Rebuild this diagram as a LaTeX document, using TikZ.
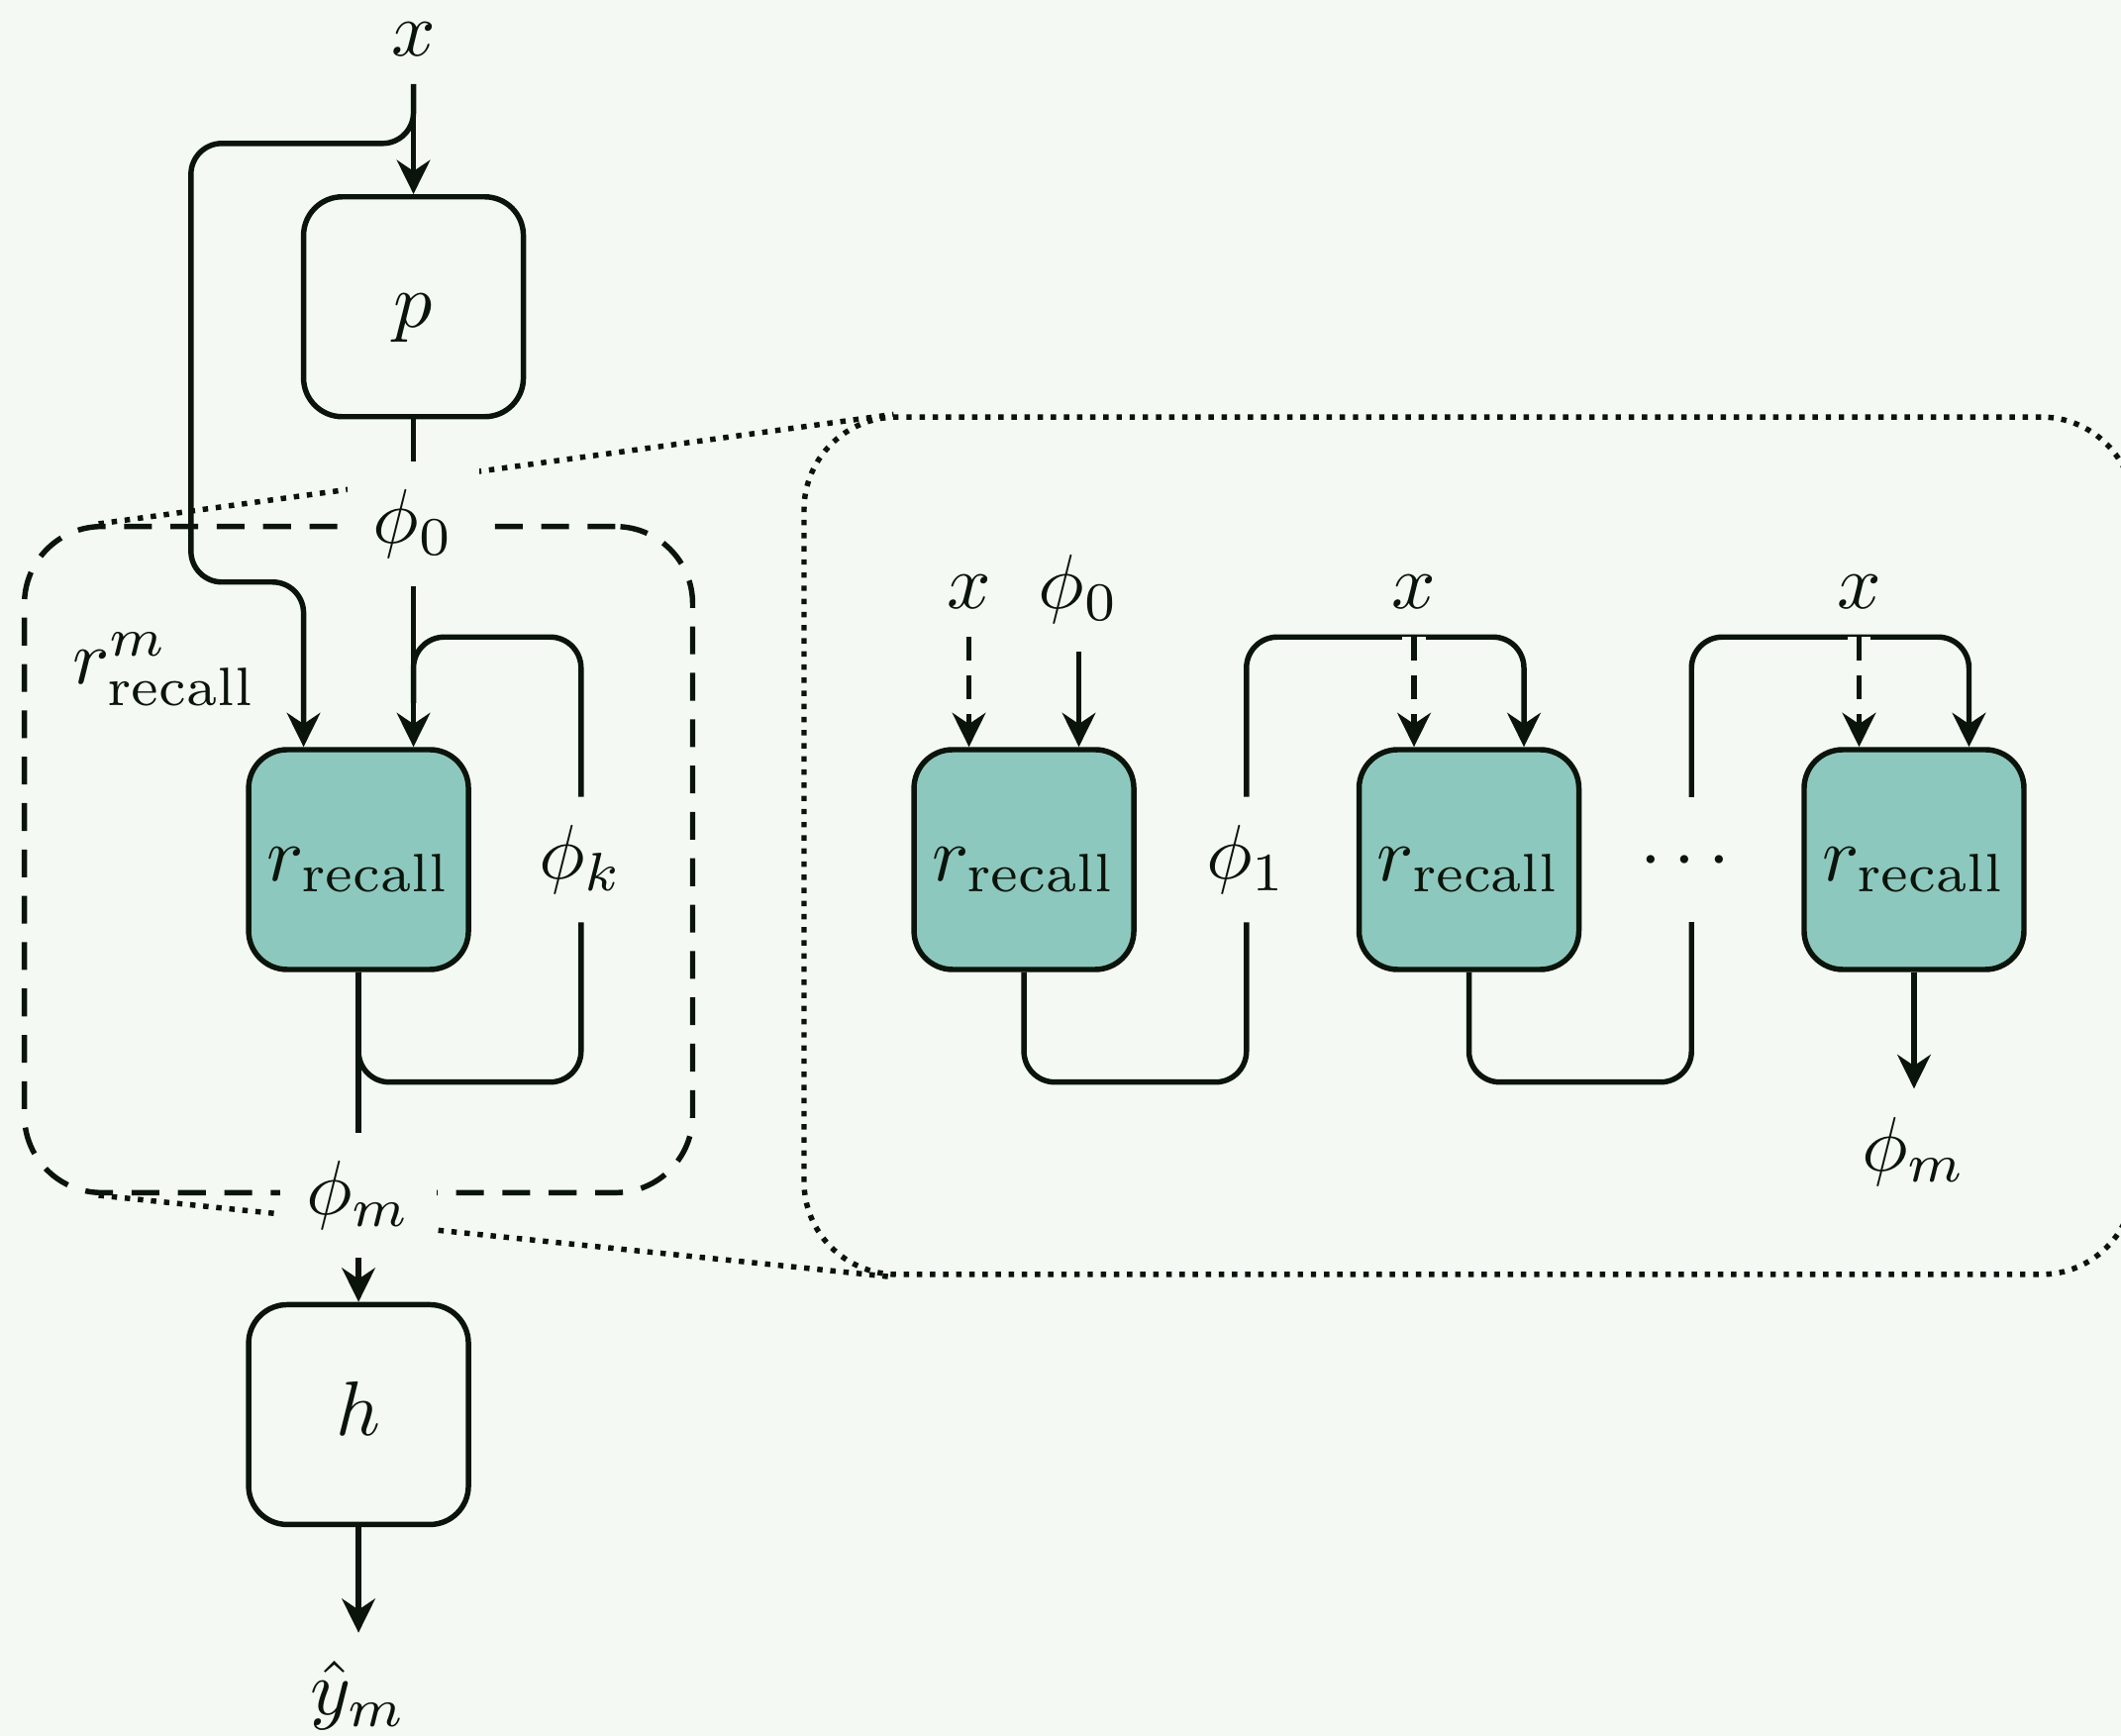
\documentclass[tikz,border=0pt]{standalone}
\usepackage{amsmath}
\usetikzlibrary{positioning,arrows.meta,calc}

\definecolor{bgc}{RGB}{244,249,243}
\definecolor{recfill}{RGB}{141,200,190}
\definecolor{ink}{RGB}{10,20,10}

\begin{document}
\begin{tikzpicture}[
  line width=0.7pt, color=ink, >={Stealth[length=4.4pt,width=4.3pt]},
  box/.style={rectangle,draw,rounded corners=5pt,minimum size=1cm,inner sep=0pt,
    text height=1.5ex,text depth=0.25ex,fill=#1},
  box/.default=bgc,
  lab/.style={inner sep=3.33pt},
  cutlab/.style={fill=bgc,inner sep=3.33pt},
  arrow/.style={->},
  feed/.style={->,densely dashed,preaction={draw=bgc,line width=3pt,solid,-,shorten >=5pt}},
  loopbox/.style={draw,dash pattern=on 3.6pt off 2.4pt,rounded corners=10pt,minimum width=3.04cm,minimum height=3.03cm},
  zoombox/.style={draw,densely dotted,rounded corners=12pt,minimum width=6.05cm,minimum height=3.9cm},
  zoomline/.style={densely dotted},
]

% background
\fill[bgc] (0,0) rectangle (9.649,-7.896);
\useasboundingbox (0,0) rectangle (9.649,-7.896);

% === MAIN COLUMN ===
\node[box=recfill] (rec) at (1.631,-3.910) {$r_{\text{recall}}$};
\node[box,above=1.49cm of rec,xshift=0.25cm] (pnet) {$p$};
\node[box,below=1.5cm of rec] (hnet) {$h$};
\node[loopbox] (loop) at (rec) {};

% === UNROLLED CHAIN ===
\node[box=recfill] (ra) at (4.658,-3.910) {$r_{\text{recall}}$};
\node[box=recfill,right=1cm of ra] (rb) {$r_{\text{recall}}$};
\node[box=recfill,right=1cm of rb] (rc) {$r_{\text{recall}}$};
\node[zoombox] (zoom) at ($(rb)+(0,0.063)$) {};

% zoom lines
\draw[zoomline] ($(loop.north west)+(0.35,0)$) -- ($(zoom.north west)+(0.42,0)$);
\draw[zoomline] ($(loop.south west)+(0.35,0)$) -- ($(zoom.south west)+(0.42,0)$);

% labels
\node[cutlab] (phiz) at (pnet |- loop.north) {$\phi_0$};
\node[cutlab] (phim) at (rec |- loop.south) {$\phi_m$};
\node[lab] (phik) at ($(rec.east)+(0.5,0)$) {$\phi_k$};
\node[lab,anchor=base] (xin) at ($(pnet.north)+(0,0.63)$) {$x$};
\node[lab,below=0.48cm of hnet] (yhat) {$\hat{y}_m$};
\node[lab] (rlab) at (0.748,-3.045) {$r^m_{\text{recall}}$};

\node[lab,anchor=base] (xa) at ($(ra.north)+(-0.25,0.63)$) {$x$};
\node[lab,anchor=base] (phiza) at ($(ra.north)+(0.25,0.63)$) {$\phi_0$};
\node[lab,anchor=base] (xb) at ($(rb.north)+(-0.25,0.63)$) {$x$};
\node[lab,anchor=base] (xc) at ($(rc.north)+(-0.25,0.63)$) {$x$};
\node[lab] (phione) at ($(ra.east)!0.5!(rb.west)$) {$\phi_1$};
\node[lab,text height=6.9pt,text depth=1.9pt] (gap) at ($(rb.east)!0.5!(rc.west)$) {$\cdots$};
\node[lab,below=0.53cm of rc] (phimr) {$\phi_m$};

% main path
\draw[arrow] (xin) -- (pnet);
\draw (pnet) -- (phiz);
\draw[arrow] (phiz) -- ($(rec.north)+(0.25,0)$);
\draw[arrow,rounded corners] (xin.south) -- ++(0,-0.27) -| ($(rec.north west)+(-0.25,0.75)$) -| ($(rec.north)+(-0.25,0)$);
\draw (rec) -- (phim);
\draw[arrow] (phim) -- (hnet);
\draw[arrow] (hnet) -- (yhat);

% recurrence
\draw[rounded corners] (rec.south) -- ++(0,-0.5) -| (phik);
\draw[rounded corners] (phik) |- ($(rec.north)+(0.25,0.5)$) -- ($(rec.north)+(0.25,0.2)$);

% chain
\draw[rounded corners] (ra.south) -- ++(0,-0.5) -| (phione);
\draw[arrow,rounded corners] (phione) |- ($(rb.north)+(0.25,0.5)$) -- ($(rb.north)+(0.25,0)$);
\draw[rounded corners] (rb.south) -- ++(0,-0.5) -| (gap);
\draw[arrow,rounded corners] (gap) |- ($(rc.north)+(0.25,0.5)$) -- ($(rc.north)+(0.25,0)$);
\draw[arrow] (rc) -- (phimr);
\draw[arrow] (phiza) -- ($(ra.north)+(0.25,0)$);
\draw[feed] (xa) -- ($(ra.north)+(-0.25,0)$);
\draw[feed] (xb) -- ($(rb.north)+(-0.25,0)$);
\draw[feed] (xc) -- ($(rc.north)+(-0.25,0)$);

\end{tikzpicture}
\end{document}
